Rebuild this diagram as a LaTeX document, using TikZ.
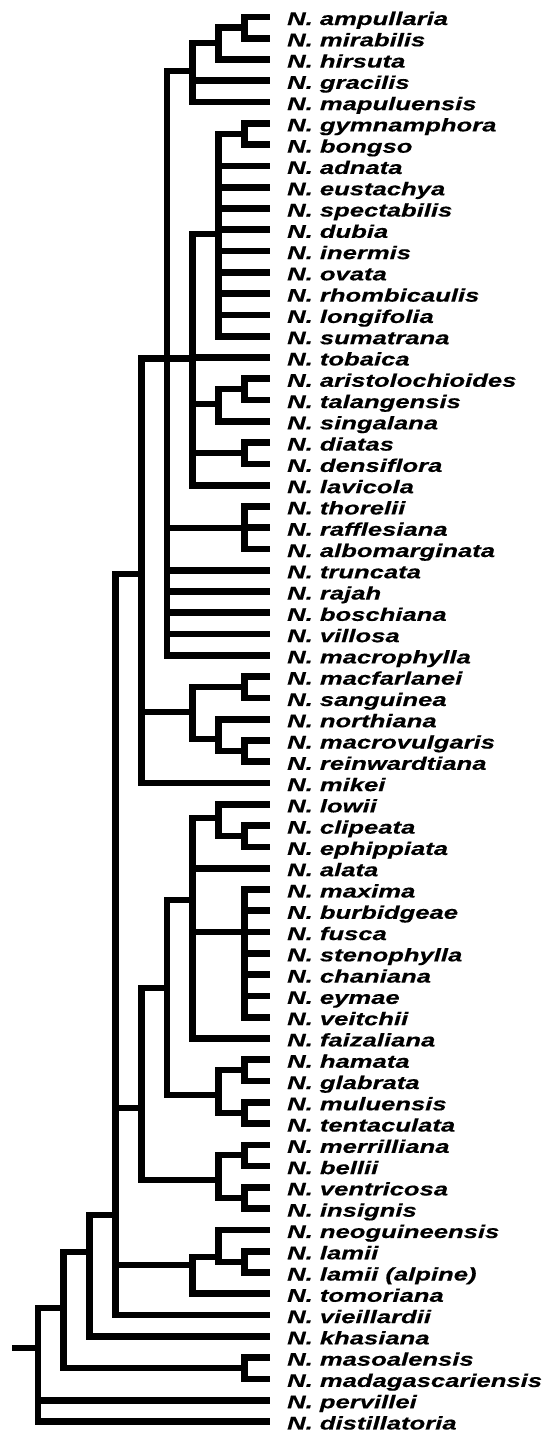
\documentclass[tikz,border=0pt]{standalone}
\usepackage{fontspec}
\newfontfamily\labfont[FakeStretch=1.40,FakeBold=0.4]{Liberation Sans}
\newcommand\mkn[3]{\coordinate (#1) at ({38+25.8*#2},#3);}
\newcommand\edgeto[2]{\draw[branch] (#1) |- (#2);}
\begin{document}
\begin{tikzpicture}[x=1pt,y=-1pt,
  branch/.style={line width=6.7pt,line join=miter},
  lab/.style={anchor=base west,inner sep=0pt,font=\labfont\bfseries\itshape\fontsize{18.3}{20}\selectfont}]
\useasboundingbox (0,0) rectangle (556,1432);
\foreach \n [count=\i] in {ampullaria,mirabilis,hirsuta,gracilis,mapuluensis,gymnamphora,bongso,adnata,eustachya,spectabilis,dubia,inermis,ovata,rhombicaulis,longifolia,sumatrana,tobaica,aristolochioides,talangensis,singalana,diatas,densiflora,lavicola,thorelii,rafflesiana,albomarginata,truncata,rajah,boschiana,villosa,macrophylla,macfarlanei,sanguinea,northiana,macrovulgaris,reinwardtiana,mikei,lowii,clipeata,ephippiata,alata,maxima,burbidgeae,fusca,stenophylla,chaniana,eymae,veitchii,faizaliana,hamata,glabrata,muluensis,tentaculata,merrilliana,bellii,ventricosa,insignis,neoguineensis,lamii,lamii (alpine),tomoriana,vieillardii,khasiana,masoalensis,madagascariensis,pervillei,distillatoria}{
  \coordinate (t\i) at (270,{17+(\i-1)*21.28});
  \node[lab] (l\i) at (287,{25+(\i-1)*21.28}) {N. \n};
}
\mkn{am}{8}{27.6}
\mkn{amh}{7}{43}
\mkn{top}{6}{71}
\mkn{gb}{8}{134}
\mkn{gym}{7}{234}
\mkn{at}{8}{389}
\mkn{ats}{7}{404}
\mkn{dd}{8}{453}
\mkn{ra}{6}{358.5}
\mkn{tra}{8}{528}
\mkn{qa}{5}{358.5}
\mkn{ms}{8}{687}
\mkn{mr}{8}{751}
\mkn{nmr}{7}{739}
\mkn{mac}{6}{712}
\mkn{pa}{4}{574}
\mkn{ce}{8}{836}
\mkn{lce}{7}{818}
\mkn{mx}{8}{932}
\mkn{rb}{6}{900}
\mkn{hg}{8}{1070}
\mkn{mt}{8}{1113}
\mkn{hm}{7}{1095}
\mkn{qb}{5}{988}
\mkn{mb}{8}{1155}
\mkn{vi}{8}{1198}
\mkn{mv}{7}{1180}
\mkn{pb}{4}{1108}
\mkn{ll}{8}{1262}
\mkn{nl}{7}{1257}
\mkn{tm}{6}{1265}
\mkn{dc}{3}{1215}
\mkn{db}{2}{1252}
\mkn{mm}{8}{1368}
\mkn{da}{1}{1308}
\mkn{dz}{0}{1348}
\coordinate (rt) at (12,1348);
% top clade
\edgeto{am}{t1}\edgeto{am}{t2}
\edgeto{amh}{am}\edgeto{amh}{t3}
\edgeto{top}{amh}\edgeto{top}{t4}\edgeto{top}{t5}
\edgeto{gb}{t6}\edgeto{gb}{t7}
\edgeto{gym}{gb}
\foreach \k in {8,...,16}{\edgeto{gym}{t\k}}
\edgeto{at}{t18}\edgeto{at}{t19}
\edgeto{ats}{at}\edgeto{ats}{t20}
\edgeto{dd}{t21}\edgeto{dd}{t22}
\edgeto{ra}{gym}\edgeto{ra}{t17}\edgeto{ra}{ats}\edgeto{ra}{dd}\edgeto{ra}{t23}
\edgeto{tra}{t24}\edgeto{tra}{t25}\edgeto{tra}{t26}
\edgeto{qa}{top}\edgeto{qa}{ra}\edgeto{qa}{tra}
\foreach \k in {27,...,31}{\edgeto{qa}{t\k}}
\edgeto{ms}{t32}\edgeto{ms}{t33}
\edgeto{mr}{t35}\edgeto{mr}{t36}
\edgeto{nmr}{t34}\edgeto{nmr}{mr}
\edgeto{mac}{ms}\edgeto{mac}{nmr}
\edgeto{pa}{qa}\edgeto{pa}{mac}\edgeto{pa}{t37}
% lower clade
\edgeto{ce}{t39}\edgeto{ce}{t40}
\edgeto{lce}{t38}\edgeto{lce}{ce}
\foreach \k in {42,...,48}{\edgeto{mx}{t\k}}
\edgeto{rb}{lce}\edgeto{rb}{t41}\edgeto{rb}{mx}\edgeto{rb}{t49}
\edgeto{hg}{t50}\edgeto{hg}{t51}
\edgeto{mt}{t52}\edgeto{mt}{t53}
\edgeto{hm}{hg}\edgeto{hm}{mt}
\edgeto{qb}{rb}\edgeto{qb}{hm}
\edgeto{mb}{t54}\edgeto{mb}{t55}
\edgeto{vi}{t56}\edgeto{vi}{t57}
\edgeto{mv}{mb}\edgeto{mv}{vi}
\edgeto{pb}{qb}\edgeto{pb}{mv}
\edgeto{ll}{t59}\edgeto{ll}{t60}
\edgeto{nl}{t58}\edgeto{nl}{ll}
\edgeto{tm}{nl}\edgeto{tm}{t61}
\edgeto{dc}{pa}\edgeto{dc}{pb}\edgeto{dc}{tm}\edgeto{dc}{t62}
\edgeto{db}{dc}\edgeto{db}{t63}
\edgeto{mm}{t64}\edgeto{mm}{t65}
\edgeto{da}{db}\edgeto{da}{mm}
\edgeto{dz}{da}\edgeto{dz}{t66}\edgeto{dz}{t67}
\draw[branch] (rt) -- (dz);
\end{tikzpicture}
\end{document}
